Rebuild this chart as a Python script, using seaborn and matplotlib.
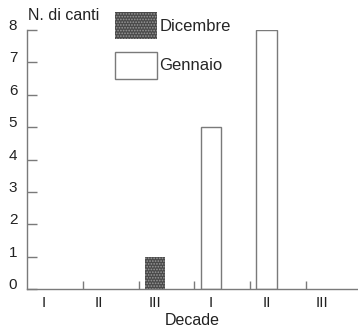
import numpy as np
import pandas as pd
import matplotlib
matplotlib.use("Agg")
import matplotlib.pyplot as plt
import seaborn as sns
from matplotlib.patches import Patch

# ---- data ----
months = ["Dicembre", "Dicembre", "Dicembre", "Gennaio", "Gennaio", "Gennaio"]
decades = ["I", "II", "III", "I", "II", "III"]
keys = ["Dic I", "Dic II", "Dic III", "Gen I", "Gen II", "Gen III"]
canti = [0, 0, 1, 5, 8, 0]
yticks = [0, 1, 2, 3, 4, 5, 6, 7, 8]

df = pd.DataFrame({"key": keys, "mese": months, "canti": canti})

sns.set_style("ticks")
plt.rcParams["font.family"] = ["Liberation Sans", "DejaVu Sans"]
plt.rcParams["hatch.linewidth"] = 0.8

fig = plt.figure(figsize=(3.58, 3.29), dpi=100)
ax = fig.add_axes([27 / 358, 40 / 329, 331 / 358, 259 / 329])

sns.barplot(data=df, x="key", y="canti", hue="mese", order=keys,
            hue_order=["Dicembre", "Gennaio"], dodge=False, width=0.36,
            palette={"Dicembre": "#4a4a4a", "Gennaio": "white"},
            legend=False, ax=ax, saturation=1)

gray = "#7a7a7a"
for c, cont in enumerate(ax.containers):
    for bar in cont:
        if bar.get_height() == 0:
            bar.set_visible(False)
            continue
        if c == 0:
            bar.set_facecolor("#4a4a4a")
            bar.set_hatch("......")
            bar.set_edgecolor("#9a9a9a")
            bar.set_linewidth(0)
        else:
            bar.set_facecolor("white")
            bar.set_edgecolor(gray)
            bar.set_linewidth(1.0)

ax.set_xlim(-0.294, 5.64)
ax.set_ylim(0, 8)
ax.set_yticks(yticks)
ax.set_xticks(range(len(decades)))
ax.set_xticklabels(decades)
ax.set_xticks([i + 0.706 for i in range(5)], minor=True)

ax.tick_params(axis="x", which="major", length=0, pad=5, labelsize=11, colors="#222222")
ax.tick_params(axis="x", which="minor", direction="in", length=6, width=1, color=gray)
ax.tick_params(axis="y", direction="in", length=7, width=1, color=gray, pad=7,
               labelsize=11, labelcolor="#222222")
for lab in ax.get_yticklabels():
    lab.set_va("baseline")

sns.despine(ax=ax)
for s in ("left", "bottom"):
    ax.spines[s].set_color(gray)
    ax.spines[s].set_linewidth(1.0)

ax.set_xlabel("Decade", fontsize=11.5, labelpad=2, color="#222222")
ax.set_ylabel("")
fig.text(28 / 358, 1 - 15 / 329, "N. di canti", fontsize=11.5, va="center", ha="left", color="#222222")

handles = [Patch(facecolor="#4a4a4a", hatch="......", edgecolor="#9a9a9a", linewidth=0, label="Dicembre"),
           Patch(facecolor="white", edgecolor=gray, linewidth=1.0, label="Gennaio")]
leg = fig.legend(handles=handles, loc="upper left", bbox_to_anchor=(115 / 358, 1 - 12 / 329),
                 frameon=False, fontsize=12, handlelength=2.5, handleheight=2.1,
                 labelspacing=0.78, handletextpad=0.15, borderaxespad=0, borderpad=0)

fig.savefig("out.png", dpi=100)
